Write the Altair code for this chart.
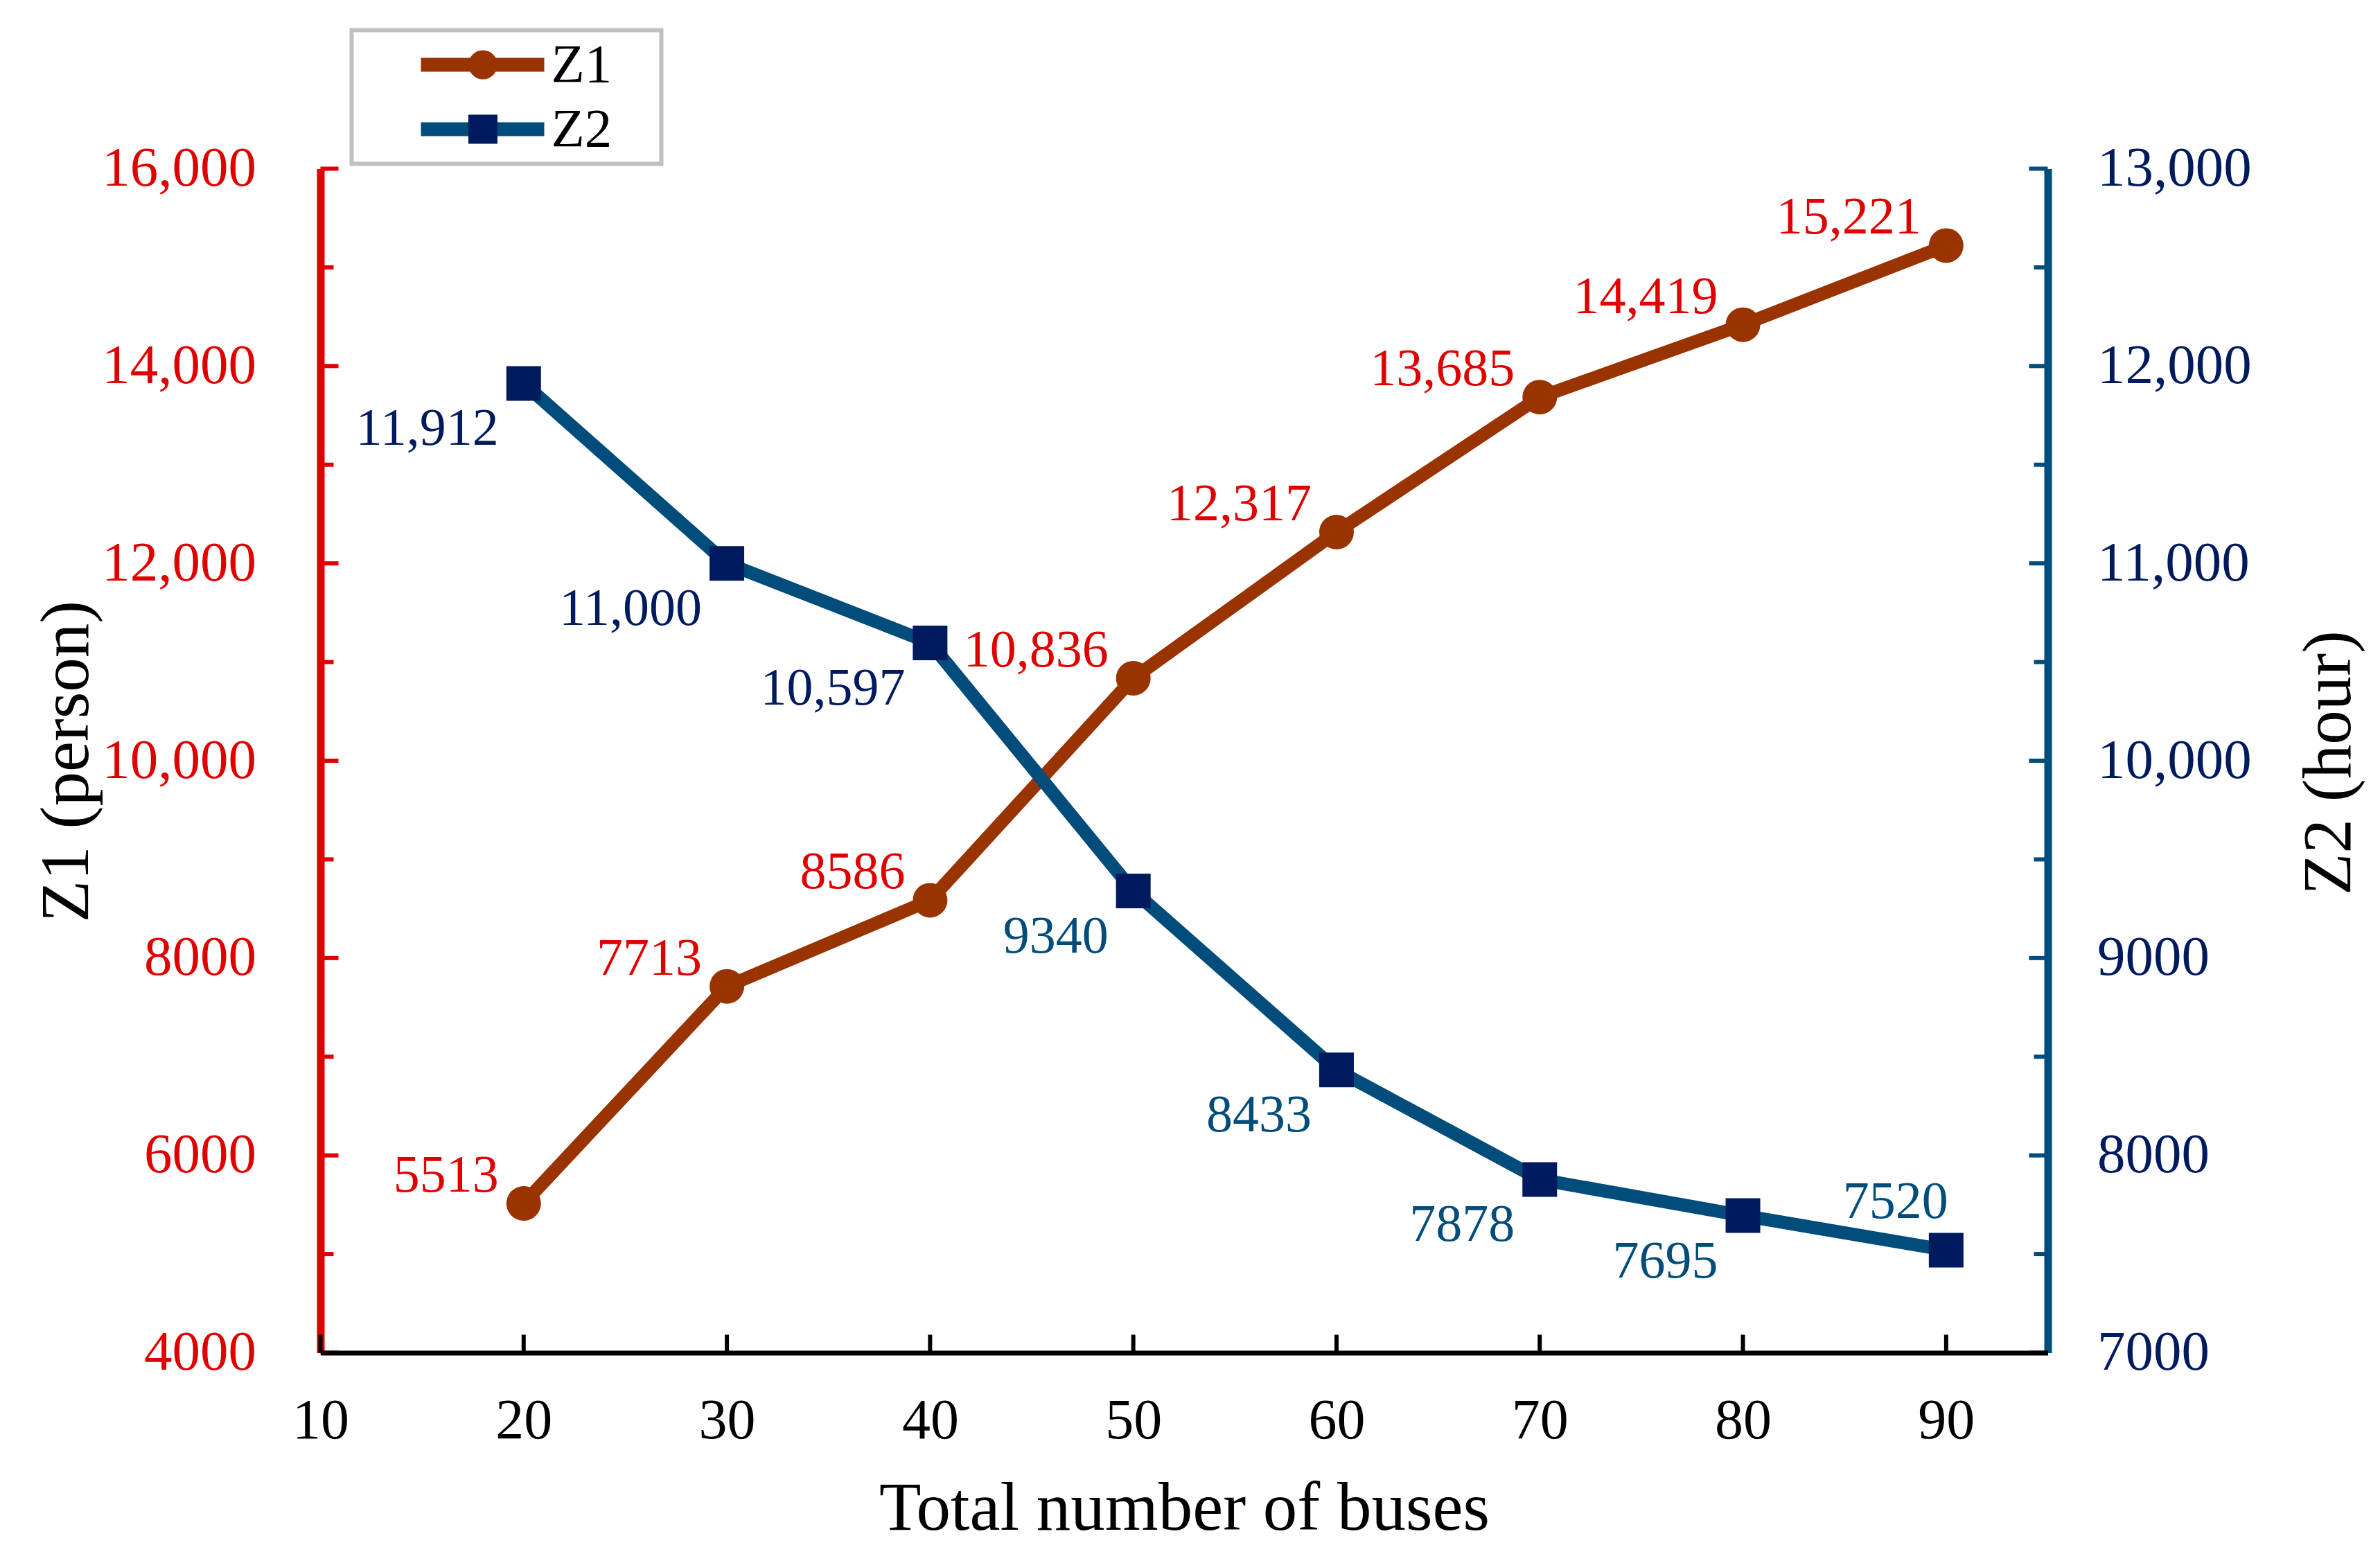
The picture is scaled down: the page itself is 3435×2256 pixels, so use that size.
import altair as alt
import pandas as pd

# ---------------- data ----------------
buses = [20, 30, 40, 50, 60, 70, 80, 90]
z1_person = [5513, 7713, 8586, 10836, 12317, 13685, 14419, 15221]
z2_hour = [11912, 11000, 10597, 9340, 8433, 7878, 7695, 7520]
series = ["Z1", "Z2"]

x_ticks = [10, 20, 30, 40, 50, 60, 70, 80, 90]
x_domain = [10, 95]
z1_domain = [4000, 16000]
z1_major = [4000, 6000, 8000, 10000, 12000, 14000, 16000]
z1_minor = [5000, 7000, 9000, 11000, 13000, 15000]
z2_domain = [7000, 13000]
z2_major = [7000, 8000, 9000, 10000, 11000, 12000, 13000]
z2_minor = [7500, 8500, 9500, 10500, 11500, 12500]

# ---------------- style ----------------
FONT = "Liberation Serif"
W, H = 2493, 1709
RED = "#E00000"
BROWN = "#993300"
BLUE = "#004C7A"
NAVY = "#001A5E"
NUM_FMT = "datum.value >= 10000 ? format(datum.value, ',') : format(datum.value, 'd')"

df1 = pd.DataFrame({"buses": buses, "value": z1_person, "series": series[0]})
df2 = pd.DataFrame({"buses": buses, "value": z2_hour, "series": series[1]})

x_scale = alt.Scale(domain=x_domain, nice=False, zero=False)
X = alt.X(
    "buses:Q",
    scale=x_scale,
    axis=alt.Axis(
        values=x_ticks, title="Total number of buses", ticks=False, tickSize=0,
        grid=False, domainColor="black", domainWidth=7, labelFont=FONT,
        labelFontSize=82, labelColor="black", labelPadding=58, labelFlush=False,
        labelLimit=400, titleFont=FONT, titleFontSize=99, titleFontWeight="normal",
        titleColor="black", titlePadding=38, zindex=1,
    ),
)

y1_scale = alt.Scale(domain=z1_domain, nice=False, zero=False)
Y1 = alt.Y(
    "value:Q",
    scale=y1_scale,
    axis=alt.Axis(
        orient="left", values=z1_major, labelExpr=NUM_FMT, ticks=False, tickSize=0,
        grid=False, domainColor=RED, domainWidth=11, labelColor=RED,
        labelFont=FONT, labelFontSize=81, labelPadding=93, labelLimit=400,
        title="Z1 (person)", titleFont=FONT, titleFontSize=99, titleAngle=270,
        titleBaseline="middle", titleAlign="center", titleX=-366, titleY=855,
        titleFontWeight="normal", titleColor="black",
    ),
)

y2_scale = alt.Scale(domain=z2_domain, nice=False, zero=False)
Y2 = alt.Y(
    "value:Q",
    scale=y2_scale,
    axis=alt.Axis(
        orient="right", values=z2_major, labelExpr=NUM_FMT, ticks=False, tickSize=0,
        grid=False, domainColor=BLUE, domainWidth=11, labelColor=NAVY,
        labelFont=FONT, labelFontSize=81, labelPadding=71, labelLimit=400,
        title="Z2 (hour)", titleFont=FONT, titleFontSize=99, titleAngle=270,
        titleBaseline="middle", titleAlign="center", titleX=406, titleY=857,
        titleFontWeight="normal", titleColor="black",
    ),
)

legend_lines = alt.Legend(
    title=None, orient="none", legendX=45, legendY=-200, padding=4,
    symbolType="stroke", symbolSize=31684, symbolStrokeWidth=20,
    symbolOffset=86, labelOffset=0, clipHeight=92, rowPadding=1,
    labelFont=FONT, labelFontSize=79, labelColor="black",
)
legend_marks = alt.Legend(
    title=None, orient="none", legendX=45, legendY=-200, padding=4,
    symbolSize=1764, symbolStrokeWidth=0, symbolOffset=146, symbolOpacity=1,
    clipHeight=92, rowPadding=1, labelFont=FONT, labelFontSize=79,
    labelOpacity=0, labelOffset=143, labelLimit=600, labelExpr="'M'",
    strokeColor="#C0C0C0",
)

line_color = alt.Color("series:N", scale=alt.Scale(domain=series, range=[BROWN, BLUE]),
                       legend=legend_lines)
mark_shape = alt.Shape("series:N", scale=alt.Scale(range=["circle", "square"]),
                       legend=legend_marks)
mark_fill = alt.Fill("series:N", scale=alt.Scale(range=[BROWN, NAVY]),
                     legend=legend_marks)

# ---------------- Z1 (left axis) ----------------
line1 = alt.Chart(df1).mark_line(strokeWidth=19).encode(x=X, y=Y1, color=line_color)
pts1 = alt.Chart(df1).mark_point(filled=True, size=2500, opacity=1, strokeWidth=0).encode(
    x=X, y=Y1, shape=mark_shape, fill=mark_fill)
txt1 = alt.Chart(df1).transform_calculate(label=NUM_FMT).mark_text(
    align="right", baseline="middle", dx=-36, dy=-40, font=FONT, fontSize=76, color=RED
).encode(x=X, y=Y1, text="label:N")

lmaj = alt.Chart(pd.DataFrame({"value": z1_major})).mark_rule(color=RED, strokeWidth=6).encode(
    y=Y1, x=alt.value(0), x2=alt.value(26))
lmin = alt.Chart(pd.DataFrame({"value": z1_minor})).mark_rule(color=RED, strokeWidth=6).encode(
    y=Y1, x=alt.value(0), x2=alt.value(19))
xt = alt.Chart(pd.DataFrame({"buses": x_ticks})).mark_rule(color="black", strokeWidth=6).encode(
    x=X, y=alt.value(H - 26), y2=alt.value(H))

left = alt.layer(lmaj, lmin, line1, pts1, txt1, xt)

# ---------------- Z2 (right axis) ----------------
line2 = alt.Chart(df2).mark_line(strokeWidth=19).encode(x=X, y=Y2, color=line_color)
pts2 = alt.Chart(df2).mark_point(filled=True, size=2500, opacity=1, strokeWidth=0).encode(
    x=X, y=Y2, shape=mark_shape, fill=mark_fill)
last_x = buses[-1]
txt2a = alt.Chart(df2).transform_filter(f"datum.buses < {last_x}").transform_calculate(
    label=NUM_FMT).mark_text(
    align="right", baseline="middle", dx=-36, dy=66, font=FONT, fontSize=76
).encode(x=X, y=Y2, text="label:N",
         color=alt.condition("datum.value >= 10000", alt.value(NAVY), alt.value(BLUE)))
txt2b = alt.Chart(df2).transform_filter(f"datum.buses == {last_x}").transform_calculate(
    label=NUM_FMT).mark_text(
    align="right", baseline="middle", dx=3, dy=-69, font=FONT, fontSize=76, color=BLUE
).encode(x=X, y=Y2, text="label:N")

rmaj = alt.Chart(pd.DataFrame({"value": z2_major})).mark_rule(color=BLUE, strokeWidth=6).encode(
    y=Y2, x=alt.value(W - 27), x2=alt.value(W))
rmin = alt.Chart(pd.DataFrame({"value": z2_minor})).mark_rule(color=BLUE, strokeWidth=6).encode(
    y=Y2, x=alt.value(W - 20), x2=alt.value(W))

right = alt.layer(rmaj, rmin, line2, pts2, txt2a, txt2b)

chart = alt.layer(left, right).resolve_scale(y="independent").properties(
    width=W, height=H,
    autosize=alt.AutoSizeParams(type="none"),
    padding={"left": 454.5, "top": 235.5, "right": 471, "bottom": 296},
    background="white",
).configure_view(stroke=None).configure_legend(strokeWidth=6)

chart.save("out.html", embed_options={"renderer": "svg", "actions": False})
